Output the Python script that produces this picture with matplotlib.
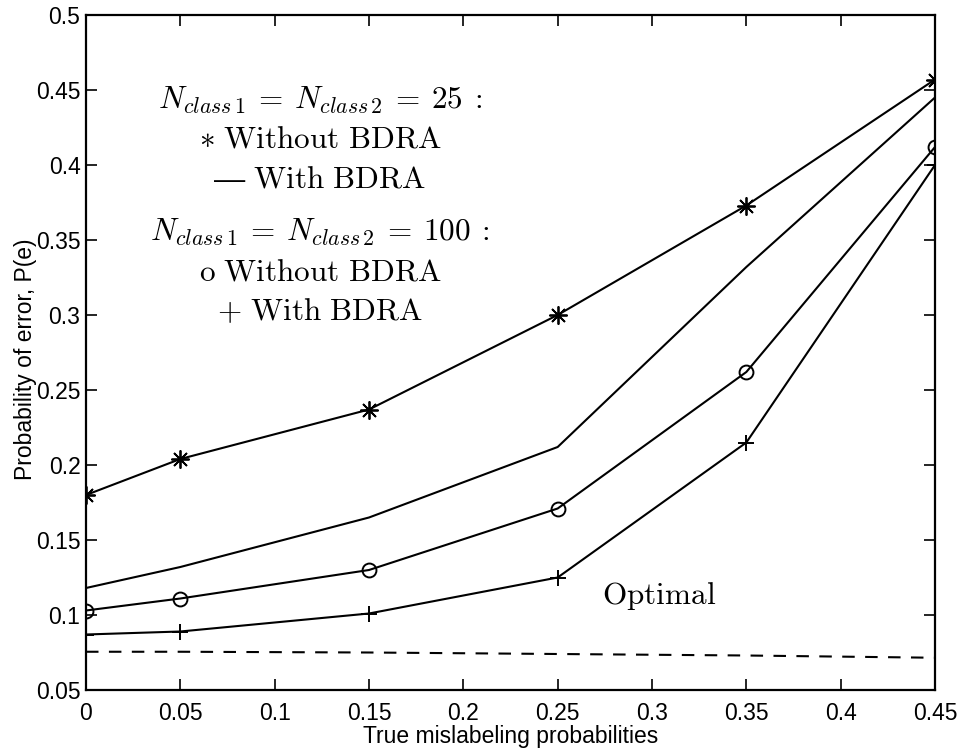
import matplotlib
matplotlib.use("Agg")
import matplotlib.pyplot as plt

plt.rcParams['mathtext.fontset'] = 'cm'
plt.rcParams['font.family'] = ['Liberation Sans', 'DejaVu Sans']

x = [0, 0.05, 0.15, 0.25, 0.35, 0.45]
n25_without = [0.180, 0.204, 0.237, 0.300, 0.373, 0.457]
n25_with = [0.118, 0.132, 0.165, 0.212, 0.332, 0.445]
n100_without = [0.103, 0.111, 0.130, 0.171, 0.262, 0.412]
n100_with = [0.087, 0.089, 0.101, 0.125, 0.215, 0.400]
optimal = [0.0755, 0.0755, 0.075, 0.074, 0.073, 0.0715]

xticks = [0, 0.05, 0.1, 0.15, 0.2, 0.25, 0.3, 0.35, 0.4, 0.45]
xticklabels = ['0', '0.05', '0.1', '0.15', '0.2', '0.25', '0.3', '0.35', '0.4', '0.45']
yticks = [0.05, 0.1, 0.15, 0.2, 0.25, 0.3, 0.35, 0.4, 0.45, 0.5]
yticklabels = ['0.05', '0.1', '0.15', '0.2', '0.25', '0.3', '0.35', '0.4', '0.45', '0.5']

fig = plt.figure(figsize=(9.57, 7.52), dpi=100)
ax = fig.add_axes([86/957, 1 - 690/752, (935-86)/957, (690-15)/752])

lw = 1.5
ax.plot(x, n25_without, color='black', lw=lw, marker=(8, 2, 0), ms=13, mew=1.3)
ax.plot(x, n25_with, color='black', lw=lw)
ax.plot(x, n100_without, color='black', lw=lw, marker='o', ms=10, mfc='none', mew=1.4)
ax.plot(x, n100_with, color='black', lw=lw, marker='+', ms=11, mew=1.4)
ax.plot(x, optimal, color='black', lw=lw, ls=(0, (6, 5)))

ax.set_xlim(0, 0.45)
ax.set_ylim(0.05, 0.5)
ax.set_xticks(xticks)
ax.set_xticklabels(xticklabels)
ax.set_yticks(yticks)
ax.set_yticklabels(yticklabels)
ax.tick_params(direction='in', length=8, width=1.2, top=True, right=True,
               labelsize=16.5)
ax.tick_params(axis='x', pad=9)
ax.tick_params(axis='y', pad=4)
for s in ax.spines.values():
    s.set_linewidth(1.6)

ax.set_xlabel('True mislabeling probabilities', fontsize=16.5, labelpad=0)
ax.set_ylabel('Probability of error, P(e)', fontsize=16.5)
ax.yaxis.set_label_coords(-0.058, 0.49)

tx = 0.124
fs = 22.5
ax.text(tx, 0.443, r'$N_{class\,1}\:=\:N_{class\,2}\:=\:25\::$', fontsize=fs, ha='center', va='center')
ax.text(tx, 0.4167, r'$\ast\ \mathrm{Without\ BDRA}$', fontsize=fs, ha='center', va='center')
ax.text(tx, 0.39, r'$\mathrm{—\ With\ BDRA}$', fontsize=fs, ha='center', va='center')
ax.text(tx, 0.355, r'$N_{class\,1}\:=\:N_{class\,2}\:=\:100\::$', fontsize=fs, ha='center', va='center')
ax.text(tx, 0.328, r'$\mathrm{o\ Without\ BDRA}$', fontsize=fs, ha='center', va='center')
ax.text(tx, 0.302, r'$+\ \mathrm{With\ BDRA}$', fontsize=fs, ha='center', va='center')
ax.text(0.304, 0.113, r'$\mathrm{Optimal}$', fontsize=fs, ha='center', va='center')

fig.savefig('out.png', dpi=100)
